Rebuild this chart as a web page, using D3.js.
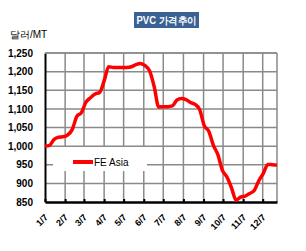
<!DOCTYPE html>
<html>
<head>
<meta charset="utf-8">
<script src="https://cdn.jsdelivr.net/npm/d3@7"></script>
<style>
  body { margin: 0; background: #fff; }
  text { font-family: "Liberation Sans", Arial, sans-serif; }
</style>
</head>
<body>
<script>
// ---------------- data ----------------
const seriesName = "FE Asia";
const firstWeek = "2008-01-07";
// weekly price, $/MT
const prices = [
  1000, 1002, 1018, 1024, 1025, 1030, 1045, 1080, 1090, 1118,
  1130, 1140, 1144, 1175, 1213, 1211, 1211, 1211, 1211, 1213,
  1219, 1222, 1216, 1202, 1160, 1105, 1106, 1106, 1108, 1124,
  1128, 1125, 1117, 1112, 1098, 1055, 1040, 1003, 977, 935,
  917, 888, 855, 863, 866, 873, 881, 907, 927, 951,
  950, 949
];
const tickLabels = ["1/7", "2/7", "3/7", "4/7", "5/7", "6/7", "7/7", "8/7", "9/7", "10/7", "11/7", "12/7"];
const yTicks = [850, 900, 950, 1000, 1050, 1100, 1150, 1200, 1250];

// ---------------- setup ----------------
const width = 306, height = 251;
const margin = { left: 45, right: 29, top: 53, bottom: 49 };

const svg = d3.select("body").append("svg").attr("width", width).attr("height", height);

const parse = d3.timeParse("%Y-%m-%d");
const start = parse(firstWeek);
const data = prices.map((v, i) => ({ date: d3.timeDay.offset(start, 7 * i), value: v }));
const tickDates = tickLabels.map((t) => {
  const [m, d] = t.split("/");
  return new Date(start.getFullYear(), +m - 1, +d);
});

const x = d3.scaleTime()
  .domain(d3.extent(data, (d) => d.date))
  .range([margin.left, width - margin.right]);
const y = d3.scaleLinear()
  .domain([850, 1250])
  .range([height - margin.bottom, margin.top]);

// ---------------- title ----------------
svg.append("rect").attr("x", 134).attr("y", 12).attr("width", 65).attr("height", 16).attr("fill", "#3a6193");
svg.append("text")
  .attr("x", 166.5).attr("y", 24)
  .attr("text-anchor", "middle")
  .attr("fill", "#fff")
  .attr("textLength", 60)
  .attr("lengthAdjust", "spacingAndGlyphs")
  .style("font-size", "10px")
  .style("font-weight", "bold")
  .text("PVC 가격추이");

svg.append("text")
  .attr("x", 10).attr("y", 38)
  .style("font-size", "10px")
  .text("달러/MT");

// ---------------- grid ----------------
const grid = svg.append("g").attr("stroke", "#8a8a8a").attr("stroke-width", 1.5);
grid.selectAll(".hgrid").data(yTicks.slice(1)).enter().append("line")
  .attr("x1", margin.left).attr("x2", width - margin.right)
  .attr("y1", (d) => y(d)).attr("y2", (d) => y(d));
grid.selectAll(".vgrid").data(tickDates.slice(1)).enter().append("line")
  .attr("x1", (d) => x(d)).attr("x2", (d) => x(d))
  .attr("y1", margin.top).attr("y2", height - margin.bottom);
grid.append("line")
  .attr("x1", width - margin.right).attr("x2", width - margin.right)
  .attr("y1", margin.top).attr("y2", height - margin.bottom);

// ---------------- legend box ----------------
const legend = svg.append("g");
legend.append("rect").attr("x", 53).attr("y", 147).attr("width", 94).attr("height", 24).attr("fill", "#fff");
legend.append("line").attr("x1", 73).attr("x2", 93).attr("y1", 162).attr("y2", 162)
  .attr("stroke", "#ff0000").attr("stroke-width", 4);
legend.append("text").attr("x", 94).attr("y", 166).style("font-size", "10px").text(seriesName);

// ---------------- axes ----------------
const yAxis = svg.append("g")
  .attr("transform", `translate(${margin.left},0)`)
  .call(d3.axisLeft(y).tickValues(yTicks).tickSize(0).tickPadding(12).tickFormat(d3.format(",")));
yAxis.select(".domain").attr("stroke", "#000").attr("stroke-width", 2);
yAxis.selectAll("text").style("font-size", "10px").style("font-weight", "bold")
  .style("font-family", "'Liberation Sans', Arial, sans-serif");

const xAxis = svg.append("g")
  .attr("transform", `translate(0,${height - margin.bottom})`)
  .call(d3.axisBottom(x).tickValues(tickDates).tickSizeInner(-3).tickSizeOuter(0).tickFormat((d, i) => tickLabels[i]));
xAxis.select(".domain").attr("stroke", "#000").attr("stroke-width", 2.5);
xAxis.selectAll(".tick line").attr("stroke", "#000").attr("stroke-width", 2);
xAxis.selectAll("text")
  .style("font-size", "9px").style("font-weight", "bold")
  .style("font-family", "'Liberation Sans', Arial, sans-serif")
  .attr("text-anchor", "end")
  .attr("dy", null).attr("y", 0)
  .attr("transform", "translate(3,16) rotate(-45)");

// top border
svg.append("line")
  .attr("x1", margin.left).attr("x2", width - margin.right)
  .attr("y1", margin.top).attr("y2", margin.top)
  .attr("stroke", "#8a8a8a").attr("stroke-width", 1.5);

// ---------------- line ----------------
svg.append("path")
  .datum(data)
  .attr("fill", "none")
  .attr("stroke", "#ff0000")
  .attr("stroke-width", 3.5)
  .attr("stroke-linejoin", "round")
  .attr("d", d3.line().x((d) => x(d.date)).y((d) => y(d.value)).curve(d3.curveMonotoneX));
</script>
</body>
</html>
